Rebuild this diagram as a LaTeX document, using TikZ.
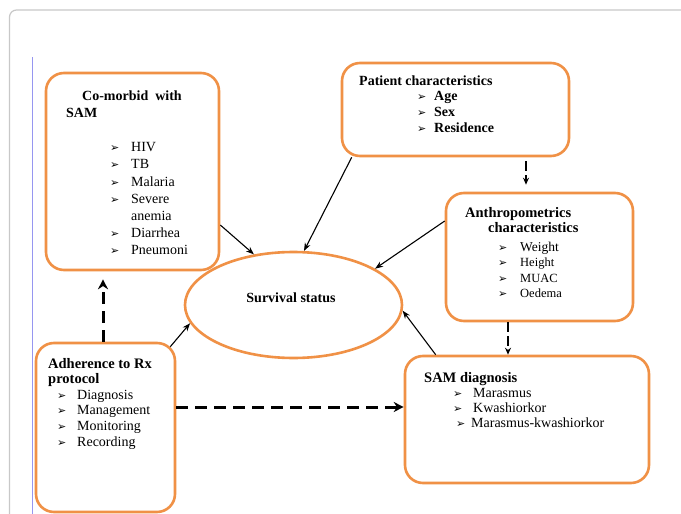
\documentclass[tikz,border=0pt]{standalone}
\usepackage{fontspec}
\setmainfont{Liberation Serif}
\newfontfamily\bulfont{DejaVu Sans}
\usetikzlibrary{calc, shapes.geometric, arrows.meta}

\definecolor{samorange}{RGB}{240,145,70}
\definecolor{framegray}{RGB}{200,200,200}
\definecolor{marginblue}{RGB}{150,150,240}

\newcommand{\bul}[1][20pt]{\makebox[#1][l]{\bulfont\fontsize{11}{11}\selectfont ➢}}

\begin{document}
\begin{tikzpicture}[
  x=1pt, y=-1pt,
  factor/.style={rectangle, draw=samorange, line width=2.6pt, rounded corners=18pt, inner sep=0pt},
  outcome/.style={ellipse, draw=samorange, line width=2.6pt, inner sep=0pt, minimum width=217pt, minimum height=106pt},
  txt/.style={anchor=base west, align=left, inner sep=0pt},
  arrow/.style={-{Stealth[length=8pt, width=6pt]}, line width=1.1pt},
  dasharrow/.style={-{Stealth[length=10pt, width=10pt]}, line width=3pt, dash pattern=on 12pt off 7pt},
  thindash/.style={-{Stealth[length=7pt, width=6pt]}, line width=1.8pt, dash pattern=on 10pt off 4pt}
]
\useasboundingbox (0,0) rectangle (681,514);
\fill[white] (0,0) rectangle (681,514);
\draw[framegray, line width=1.2pt, rounded corners=7pt] (9.5,520) -- (9.5,10) -- (690,10);
\draw[marginblue, line width=0.6pt] (32,57) -- (32,514);

% Nodes
\node[factor, minimum width=173pt, minimum height=197pt] (comorbid) at (132.5,171.5) {};
\node[factor, minimum width=227pt, minimum height=93pt] (patient) at (455.5,109.5) {};
\node[factor, minimum width=187pt, minimum height=128pt] (anthro) at (539.5,257) {};
\node[factor, minimum width=139pt, minimum height=169pt] (adherence) at (105.5,427.5) {};
\node[factor, minimum width=244pt, minimum height=127pt] (diagnosis) at (527,419.5) {};
\node[outcome] (survival) at (293.5,305) {};

% Texts (anchored at the baseline of their last line)
\node[txt, font=\fontsize{14}{17.2}\selectfont] (comorbidtxt) at (66,254.8)
  {\hspace*{16pt}\textbf{Co-morbid\ \ with}\\ \textbf{SAM}\\[17.2pt]
   \hspace*{44pt}\bul[21pt]HIV\\ \hspace*{44pt}\bul[21pt]TB\\
   \hspace*{44pt}\bul[21pt]Malaria\\ \hspace*{44pt}\bul[21pt]Severe\\
   \hspace*{65pt}anemia\\ \hspace*{44pt}\bul[21pt]Diarrhea\\
   \hspace*{44pt}\bul[21pt]Pneumoni};
\node[txt, font=\bfseries\fontsize{14}{15.7}\selectfont] (patienttxt) at (359,132.1)
  {Patient characteristics\\ \hspace*{58pt}\bul[17pt]Age\\
   \hspace*{58pt}\bul[17pt]Sex\\ \hspace*{58pt}\bul[17pt]Residence};
\node[txt, font=\fontsize{12.5}{15.5}\selectfont] (anthrotxt) at (465,297.5)
  {{\bfseries\fontsize{14.5}{15.5}\selectfont Anthropometrics}\\
   \hspace*{23pt}{\bfseries\fontsize{14.5}{15.5}\selectfont characteristics}\\[3pt]
   \hspace*{33pt}\bul[22pt]{\fontsize{13.5}{15.5}\selectfont Weight}\\
   \hspace*{33pt}\bul[22pt]Height\\ \hspace*{33pt}\bul[22pt]MUAC\\
   \hspace*{33pt}\bul[22pt]Oedema};
\node[txt, font=\fontsize{14}{15.6}\selectfont] (adherencetxt) at (48,446)
  {{\bfseries\fontsize{14.5}{15.6}\selectfont Adherence to Rx}\\
   {\bfseries\fontsize{14.5}{15.6}\selectfont protocol}\\
   \hspace*{9pt}\bul Diagnosis\\ \hspace*{9pt}\bul Management\\
   \hspace*{9pt}\bul Monitoring\\ \hspace*{9pt}\bul Recording};
\node[txt, font=\fontsize{14}{15.3}\selectfont] (diagnosistxt) at (424,427.9)
  {{\bfseries\fontsize{14.5}{15.3}\selectfont SAM diagnosis}\\
   \hspace*{29pt}\bul Marasmus\\ \hspace*{29pt}\bul Kwashiorkor\\
   \hspace*{32pt}\bul[15pt]Marasmus-kwashiorkor};
\node[font=\bfseries\fontsize{14}{16}\selectfont, inner sep=0pt] (survivaltxt) at (291,298) {Survival status};

% Arrows
\draw[arrow] ($(comorbid.east)+(0,53.5)$) -- (survival.128);
\draw[arrow] ($(patient.south west)+(11,0)$) -- (survival.79);
\draw[arrow] ($(anthro.west)+(0,-36)$) -- (survival.24);
\draw[arrow] ($(diagnosis.north west)+(32,0)$) -- (survival.-3);
\draw[arrow] ($(adherence.north east)+(-6,5)$) -- (survival.190);
\draw[dasharrow, shorten >=8pt] ($(adherence.north)+(-2.5,0)$) -- ($(comorbid.south)+(-29.5,0)$);
\draw[dasharrow] ($(adherence.east)+(0,-20.5)$) -- ($(diagnosis.west)+(0,-12.5)$);
\draw[thindash] ($(anthro.south)+(-31.5,0)$) -- ($(diagnosis.north)+(-19,0)$);
\draw[thindash, shorten <=4pt, shorten >=7pt] ($(patient.south)+(70.5,0)$) -- ($(anthro.north)+(-13.5,0)$);

\end{tikzpicture}
\end{document}
